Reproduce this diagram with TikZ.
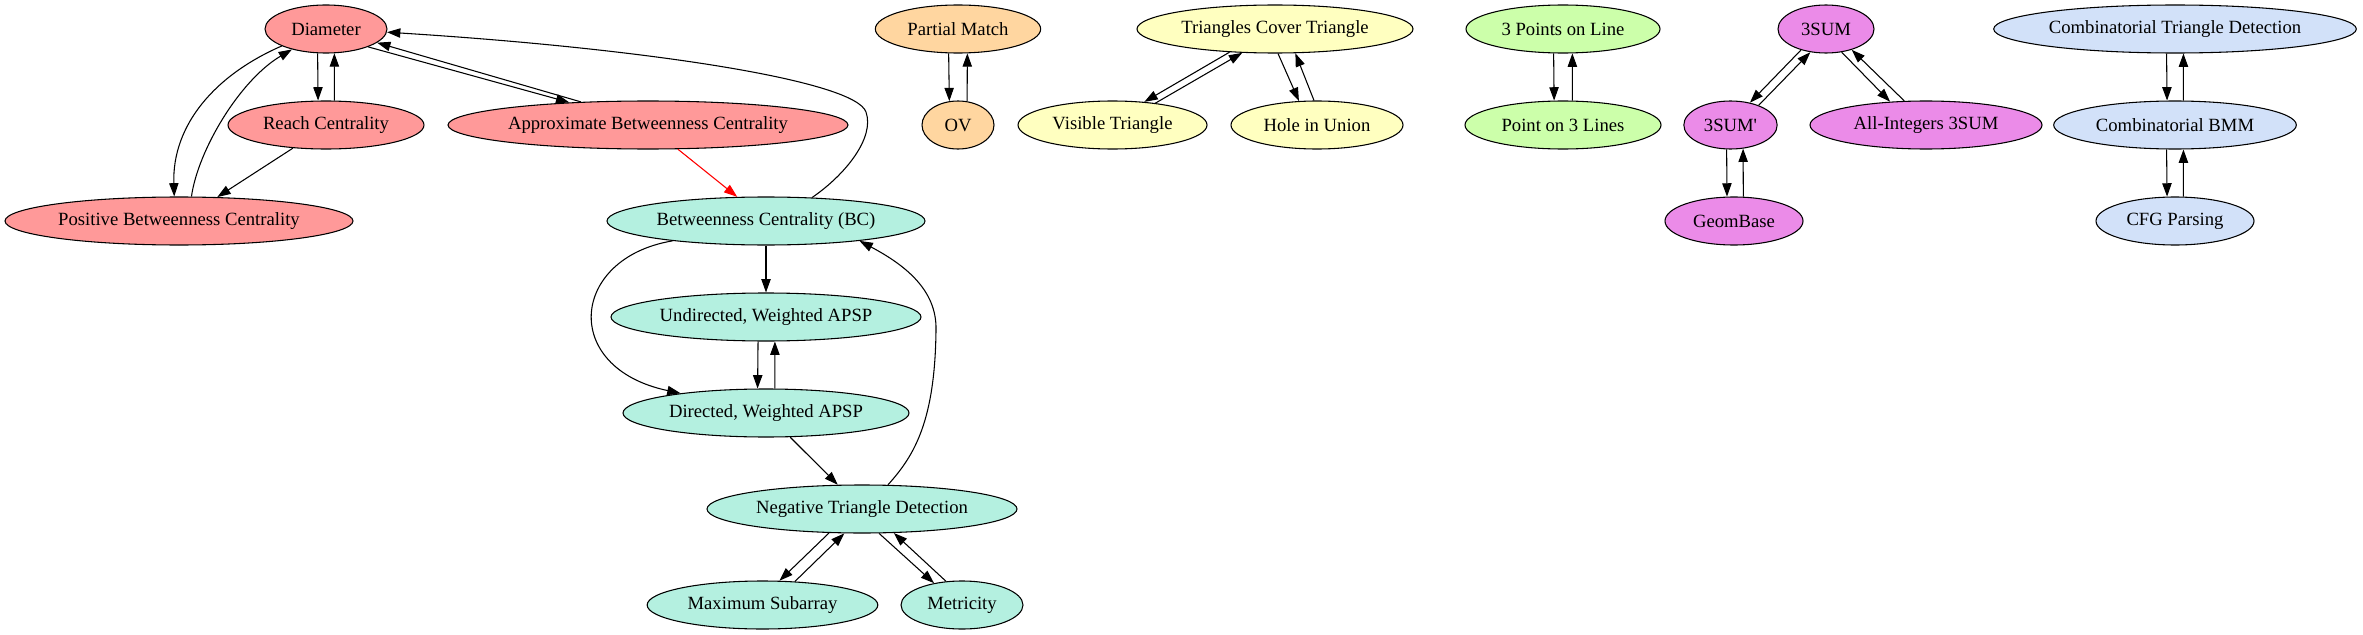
\documentclass[tikz,border=0pt]{standalone}
\usepackage{fontspec}
\setmainfont{Liberation Serif}
\usetikzlibrary{shapes.geometric,arrows.meta}
\definecolor{cred}{HTML}{FF9999}
\definecolor{cteal}{HTML}{B4F0E0}
\definecolor{corange}{HTML}{FFD6A0}
\definecolor{cyellow}{HTML}{FFFFC0}
\definecolor{cgreen}{HTML}{CCFFAA}
\definecolor{cviolet}{HTML}{EB8BE8}
\definecolor{cblue}{HTML}{D2E1F9}
\begin{document}
\begin{tikzpicture}[x=0.75pt,y=-0.75pt,
  gn/.style={draw=black, line width=0.8pt, ellipse, inner sep=0pt, minimum height=36pt,
             font=\fontsize{14}{16}\selectfont},
  ed/.style={-{Triangle[length=10pt,width=7pt]}, line width=0.8pt, draw=black},
  red edge/.style={-{Triangle[length=10pt,width=7pt]}, line width=0.8pt, draw=red, fill=red}
]
\useasboundingbox (0,0) rectangle (2363,635);

% red group
\node[gn, fill=cred, minimum width=91.5pt]  (dia)   at (326,29)  {\makebox[0pt]{Diameter}};
\node[gn, fill=cred, minimum width=147pt]   (reach) at (326,125) {\makebox[0pt]{Reach Centrality}};
\node[gn, fill=cred, minimum width=300pt]   (abc)   at (648,125) {\makebox[0pt]{Approximate Betweenness Centrality}};
\node[gn, fill=cred, minimum width=261pt]   (pbc)   at (179,221) {\makebox[0pt]{Positive Betweenness Centrality}};
% teal group
\node[gn, fill=cteal, minimum width=238.5pt] (bc)  at (766,221) {\makebox[0pt]{Betweenness Centrality (BC)}};
\node[gn, fill=cteal, minimum width=232.5pt] (uw)  at (766,317) {\makebox[0pt]{Undirected, Weighted APSP}};
\node[gn, fill=cteal, minimum width=214.5pt] (dw)  at (766,413) {\makebox[0pt]{Directed, Weighted APSP}};
\node[gn, fill=cteal, minimum width=232.5pt] (ntd) at (862,509) {\makebox[0pt]{Negative Triangle Detection}};
\node[gn, fill=cteal, minimum width=173pt]   (ms)  at (762.5,605) {\makebox[0pt]{Maximum Subarray}};
\node[gn, fill=cteal, minimum width=91.5pt]  (met) at (962,605) {\makebox[0pt]{Metricity}};
% orange group
\node[gn, fill=corange, minimum width=124pt] (pm) at (958,29)  {\makebox[0pt]{Partial Match}};
\node[gn, fill=corange, minimum width=54pt]  (ov) at (958,125) {\makebox[0pt]{OV}};
% yellow group
\node[gn, fill=cyellow, minimum width=207pt]   (tct) at (1275,29)    {\makebox[0pt]{Triangles Cover Triangle}};
\node[gn, fill=cyellow, minimum width=141.75pt] (vt) at (1112.5,125) {\makebox[0pt]{Visible Triangle}};
\node[gn, fill=cyellow, minimum width=129pt]   (hu)  at (1317,125)   {\makebox[0pt]{Hole in Union}};
% green group
\node[gn, fill=cgreen, minimum width=145.5pt] (p3l) at (1563,29)  {\makebox[0pt]{3 Points on Line}};
\node[gn, fill=cgreen, minimum width=147pt]   (po3) at (1563,125) {\makebox[0pt]{Point on 3 Lines}};
% violet group
\node[gn, fill=cviolet, minimum width=72pt]   (s3)  at (1826,29)    {\makebox[0pt]{3SUM}};
\node[gn, fill=cviolet, minimum width=70pt]   (s3p) at (1730.5,125) {\makebox[0pt]{3SUM\textquotesingle}};
\node[gn, fill=cviolet, minimum width=174pt]  (ai)  at (1926,125)   {\makebox[0pt]{All-Integers 3SUM}};
\node[gn, fill=cviolet, minimum width=103.5pt] (gb) at (1734,221)   {\makebox[0pt]{GeomBase}};
% blue group
\node[gn, fill=cblue, minimum width=272pt]   (ctd)  at (2175,29)  {\makebox[0pt]{Combinatorial Triangle Detection}};
\node[gn, fill=cblue, minimum width=182pt]   (cbmm) at (2175,125) {\makebox[0pt]{Combinatorial BMM}};
\node[gn, fill=cblue, minimum width=118.5pt] (cfg)  at (2175,221) {\makebox[0pt]{CFG Parsing}};

% red group edges
\draw[ed] (dia.251.6) -- (reach.108.4);
\draw[ed] (reach.71.6) -- (dia.-71.6);
\draw[ed] (dia.-23.2) -- (abc.164.5);
\draw[ed] (abc.161.3) -- (dia.-15.9);
\draw[ed] (dia.201) .. controls (215,75) and (172,125) .. (pbc.101.8);
\draw[ed] (pbc.63.4) .. controls (198,150) and (240,80) .. (dia.211.7);
\draw[ed] (reach.215.2) -- (pbc.32.3);
\draw[red edge] (abc.-39.6) -- (bc.140.4);
\draw[ed] (bc.27.6) .. controls (845,175) and (875,138) .. (866,112)
          .. controls (855,80) and (640,48) .. (dia.-3.75);
% teal group edges
\draw[ed] (bc.-90) -- (uw.90);
\draw[ed] (bc.192.6) .. controls (570,258) and (560,368) .. (dw.167.7);
\draw[ed] (uw.252.3) -- (dw.109.8);
\draw[ed] (dw.70.2) -- (uw.-70.9);
\draw[ed] (dw.-45) -- (ntd.135);
\draw[ed] (ntd.43.8) .. controls (915,455) and (935,420) .. (936,330)
          .. controls (937,290) and (905,265) .. (bc.-12.8);
\draw[ed] (ntd.216.9) -- (ms.55);
\draw[ed] (ms.36.4) -- (ntd.234.2);
\draw[ed] (ntd.305.3) -- (met.142.5);
\draw[ed] (met.124.8) -- (ntd.-37.1);
% orange
\draw[ed] (pm.249.4) -- (ov.110.6);
\draw[ed] (ov.69.4) -- (pm.-69.4);
% yellow
\draw[ed] (tct.207.1) -- (vt.36.4);
\draw[ed] (vt.27.4) -- (tct.216.9);
\draw[ed] (tct.277.1) -- (hu.127.2);
\draw[ed] (hu.97.1) -- (tct.-50.2);
% green
\draw[ed] (p3l.249.4) -- (po3.110.6);
\draw[ed] (po3.69.4) -- (p3l.-69.4);
% violet
\draw[ed] (s3.220.4) -- (s3p.49.7);
\draw[ed] (s3p.35.8) -- (s3.236.3);
\draw[ed] (s3p.261.7) -- (gb.106.3);
\draw[ed] (gb.69.4) -- (s3p.-62.5);
\draw[ed] (s3.-56.3) -- (ai.147.3);
\draw[ed] (ai.132.6) -- (s3.-39.6);
% blue
\draw[ed] (ctd.251.6) -- (cbmm.108.4);
\draw[ed] (cbmm.71.6) -- (ctd.-71.6);
\draw[ed] (cbmm.251.6) -- (cfg.108.4);
\draw[ed] (cfg.71.6) -- (cbmm.-71.6);
\end{tikzpicture}
\end{document}
